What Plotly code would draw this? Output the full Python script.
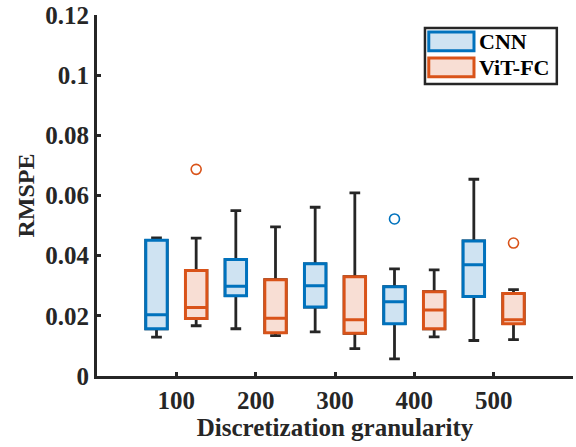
import plotly.graph_objects as go

# Discretization granularity groups
granularity = [100, 200, 300, 400, 500]

# CNN box statistics
cnn_min = [0.0129, 0.0157, 0.0147, 0.0057, 0.0118]
cnn_q1 = [0.0157, 0.0267, 0.0229, 0.0174, 0.0264]
cnn_med = [0.0204, 0.0298, 0.0300, 0.0247, 0.0370]
cnn_q3 = [0.0451, 0.0387, 0.0373, 0.0297, 0.0449]
cnn_max = [0.0459, 0.0550, 0.0561, 0.0356, 0.0654]
cnn_out_x = [400]
cnn_out_y = [0.0522]

# ViT-FC box statistics
vit_min = [0.0167, 0.0134, 0.0091, 0.0130, 0.0121]
vit_q1 = [0.0191, 0.0144, 0.0142, 0.0157, 0.0174]
vit_med = [0.0228, 0.0192, 0.0187, 0.0219, 0.0187]
vit_q3 = [0.0351, 0.0320, 0.0330, 0.0280, 0.0274]
vit_max = [0.0458, 0.0496, 0.0609, 0.0353, 0.0287]
vit_out_x = [100, 500]
vit_out_y = [0.0687, 0.0442]

OFFSET = 25
BOX_W = 27
DARK = "#262626"
FONT = "Times New Roman, Liberation Serif, serif"

series = [
    ("CNN", -OFFSET, cnn_min, cnn_q1, cnn_med, cnn_q3, cnn_max,
     cnn_out_x, cnn_out_y, "#0072BD", "#CFE3F2"),
    ("ViT-FC", OFFSET, vit_min, vit_q1, vit_med, vit_q3, vit_max,
     vit_out_x, vit_out_y, "#D95319", "#F8DED4"),
]

fig = go.Figure()

for name, off, mn, q1, med, q3, mx, ox, oy, col, fill in series:
    xs = [g + off for g in granularity]
    # whiskers and caps in dark grey
    fig.add_trace(go.Box(
        x=xs, q1=q1, median=med, q3=q3, lowerfence=mn, upperfence=mx,
        width=BOX_W, whiskerwidth=0.5, boxpoints=False,
        line=dict(color=DARK, width=2.8), fillcolor=fill,
        showlegend=False, hoverinfo="skip",
    ))
    # coloured box body on top
    fig.add_trace(go.Box(
        x=xs, q1=q1, median=med, q3=q3, lowerfence=q1, upperfence=q3,
        width=BOX_W, whiskerwidth=0, boxpoints=False,
        line=dict(color=col, width=3), fillcolor=fill,
        name=name, showlegend=False,
    ))
    # outliers
    fig.add_trace(go.Scatter(
        x=[g + off for g in ox], y=oy, mode="markers",
        marker=dict(symbol="circle-open", size=10, color=col,
                    line=dict(width=1.6, color=col)),
        showlegend=False, hoverinfo="skip",
    ))

axis_common = dict(
    showline=True, linecolor=DARK, linewidth=2.8,
    ticks="inside", tickcolor=DARK, tickwidth=2.5, ticklen=4,
    showgrid=False, zeroline=False, mirror=False,
    tickfont=dict(family=FONT, size=25, color=DARK, weight="bold"),
)

# Legend panel (paper coordinates), drawn as shapes with text labels
shapes = [dict(type="rect", xref="paper", yref="paper",
               x0=0.689, x1=0.966, y0=0.809, y1=0.964,
               line=dict(color=DARK, width=2.5), fillcolor="white")]
annotations = []
for i, (name, *_rest) in enumerate(series):
    col, fill = _rest[-2], _rest[-1]
    y_top = 0.953 - i * 0.072
    shapes.append(dict(type="rect", xref="paper", yref="paper",
                       x0=0.697, x1=0.792, y0=y_top - 0.052, y1=y_top,
                       line=dict(color=col, width=3), fillcolor=fill))
    annotations.append(dict(xref="paper", yref="paper", x=0.798,
                            y=y_top - 0.026, xanchor="left", yanchor="middle",
                            text=name, showarrow=False,
                            font=dict(family=FONT, size=22, color="black",
                                      weight="bold")))

fig.update_layout(
    width=576, height=447,
    margin=dict(l=97, r=3, t=15, b=71),
    paper_bgcolor="white", plot_bgcolor="white",
    boxmode="overlay", showlegend=False,
    font=dict(family=FONT, color=DARK),
    xaxis=dict(
        range=[0, 600], tickvals=granularity,
        title=dict(text="Discretization granularity", standoff=2,
                   font=dict(family=FONT, size=25, color=DARK, weight="bold")),
        **axis_common,
    ),
    yaxis=dict(
        range=[0, 0.12], dtick=0.02, tick0=0,
        title=dict(text="RMSPE", standoff=4,
                   font=dict(family=FONT, size=24, color=DARK, weight="bold")),
        **axis_common,
    ),
    shapes=shapes,
    annotations=annotations,
)

fig.write_html("out.html")
